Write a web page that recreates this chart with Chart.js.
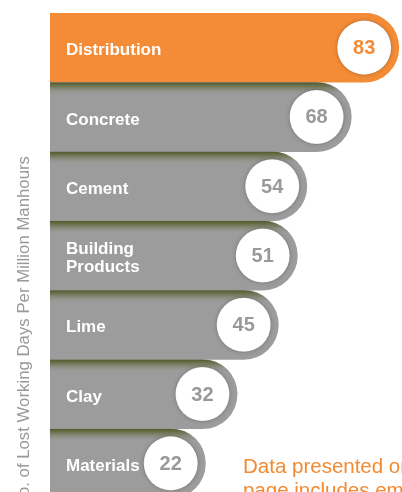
<!DOCTYPE html>
<html>
<head>
<meta charset="utf-8">
<script src="https://cdn.jsdelivr.net/npm/chart.js@4"></script>
<style>
  html, body { margin: 0; padding: 0; background: #fff; overflow: hidden; }
  #frame { width: 402px; height: 492px; overflow: hidden; position: relative; }
  #box { width: 402px; height: 498px; }
</style>
</head>
<body>
<div id="frame"><div id="box"><canvas id="lostDays"></canvas></div></div>
<script>
// === Datos ===
const categories = ["Distribution", "Concrete", "Cement", ["Building", "Products"], "Lime", "Clay", "Materials"];
const lostDays = [83, 68, 54, 51, 45, 32, 22];
const axisTitle = "No. of Lost Working Days Per Million Manhours";
const noteLines = ["Data presented on this", "page includes employees"];

const ORANGE = "#f48c37";
const GRAY = "#9c9c9c";
const FONT = '"Liberation Sans", Arial, Helvetica, sans-serif';
const AXIS_START = -27; // las barras no arrancan en cero en el original

// sombra, etiquetas y circulos con el valor
const barDecor = {
  id: "barDecor",
  afterDatasetsDraw(chart) {
    const ctx = chart.ctx;
    const bars = chart.getDatasetMeta(0).data;
    const left = chart.chartArea.left;

    bars.forEach((el, i) => {
      const bar = el.getProps(["x", "y", "height"], true);
      const h = bar.height;
      const r = h / 2;
      const top = bar.y - r;
      const cx = bar.x - r;

      // sombra de la barra de arriba
      if (i > 0) {
        ctx.save();
        ctx.beginPath();
        ctx.moveTo(left, top);
        ctx.lineTo(cx, top);
        ctx.arc(cx, bar.y, r, -Math.PI / 2, Math.PI / 2);
        ctx.lineTo(left, top + h);
        ctx.closePath();
        ctx.clip();
        const g = ctx.createLinearGradient(0, top, 0, top + 13);
        g.addColorStop(0, "rgba(75, 82, 30, 0.95)");
        g.addColorStop(0.4, "rgba(95, 102, 55, 0.55)");
        g.addColorStop(1, "rgba(156, 156, 156, 0)");
        ctx.fillStyle = g;
        ctx.fillRect(left, top, bar.x - left, 13);
        ctx.restore();
      }

      // etiqueta
      const label = chart.data.labels[i];
      const lines = Array.isArray(label) ? label : [label];
      ctx.save();
      ctx.fillStyle = "#fff";
      ctx.font = "bold 17px " + FONT;
      ctx.textBaseline = "middle";
      ctx.textAlign = "left";
      const lh = 17.5;
      let ly = bar.y + 3 - (lines.length - 1) * lh / 2;
      lines.forEach(t => { ctx.fillText(t, left + 16, ly); ly += lh; });
      ctx.restore();

      // circulo blanco
      ctx.save();
      ctx.shadowColor = "rgba(0, 0, 0, 0.25)";
      ctx.shadowBlur = 4;
      ctx.beginPath();
      ctx.arc(cx, bar.y, h * 0.39, 0, Math.PI * 2);
      ctx.fillStyle = "#fff";
      ctx.fill();
      ctx.shadowColor = "transparent";
      ctx.strokeStyle = "rgba(0, 0, 0, 0.07)";
      ctx.lineWidth = 1;
      ctx.stroke();
      ctx.fillStyle = i === 0 ? ORANGE : "#999999";
      ctx.font = "bold 20px " + FONT;
      ctx.textAlign = "center";
      ctx.textBaseline = "middle";
      ctx.fillText(String(chart.data.datasets[0].data[i]), cx, bar.y + 1);
      ctx.restore();
    });

    // titulo del eje (girado)
    ctx.save();
    ctx.translate(29, 156);
    ctx.rotate(-Math.PI / 2);
    ctx.font = "16.8px " + FONT;
    ctx.fillStyle = "#999999";
    ctx.textAlign = "right";
    ctx.textBaseline = "alphabetic";
    ctx.fillText(axisTitle, 0, 0);
    ctx.restore();

    // nota naranja
    ctx.save();
    ctx.font = "20.5px " + FONT;
    ctx.fillStyle = "#f38a30";
    ctx.textAlign = "left";
    noteLines.forEach((t, k) => ctx.fillText(t, 243, 473 + k * 24));
    ctx.restore();
  }
};

new Chart(document.getElementById("lostDays"), {
  type: "bar",
  data: {
    labels: categories,
    datasets: [{
      data: lostDays,
      base: AXIS_START,
      backgroundColor: c => c.dataIndex === 0 ? ORANGE : GRAY,
      borderRadius: 40,
      borderSkipped: "start",
      barPercentage: 1,
      categoryPercentage: 1
    }]
  },
  options: {
    indexAxis: "y",
    responsive: true,
    maintainAspectRatio: false,
    animation: false,
    layout: { padding: { left: 50, top: 13, right: 0, bottom: 0 } },
    plugins: {
      legend: { display: false },
      tooltip: { enabled: false }
    },
    scales: {
      x: { display: false, min: AXIS_START, max: 84 },
      y: { display: false }
    }
  },
  plugins: [barDecor]
});
</script>
</body>
</html>
